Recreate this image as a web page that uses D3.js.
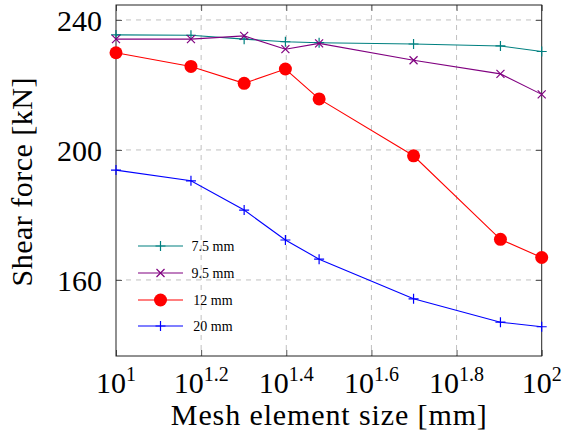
<!DOCTYPE html>
<html><head><meta charset="utf-8">
<script src="https://cdn.jsdelivr.net/npm/d3@7"></script>
<style>body{margin:0;background:#fff}svg{display:block}</style>
</head><body><svg id="c" width="563" height="437" font-family="'Liberation Serif', 'DejaVu Serif', serif"></svg>
<script>
const meshSizes = [10, 15, 20, 25, 30, 50, 80, 100];
const seriesNames = ["7.5 mm", "9.5 mm", "12 mm", "20 mm"];
const v75 = [235.4, 235.3, 234.1, 233.3, 233.0, 232.6, 232.0, 230.3];
const v95 = [234.1, 234.1, 235.1, 231.0, 232.8, 227.6, 223.4, 217.1];
const v12 = [229.9, 225.7, 220.5, 224.9, 215.7, 198.2, 172.5, 166.9];
const v20 = [193.8, 190.5, 181.5, 172.3, 166.4, 154.2, 147.0, 145.6];
const xTickExps = ["1", "1.2", "1.4", "1.6", "1.8", "2"];
const yTicks = [160, 200, 240];

const svg = d3.select("#c");
const L = 116, R = 541.7, T = 5, B = 356;
const x = d3.scaleLog().domain([10, 100]).range([L, R]);
const y = d3.scaleLinear().domain([136.6, 244.6]).range([B, T]);

const series = [
  {name: seriesNames[0], vals: v75, color: "#008080", marker: "plus"},
  {name: seriesNames[1], vals: v95, color: "#800080", marker: "x"},
  {name: seriesNames[2], vals: v12, color: "#ff0000", marker: "dot"},
  {name: seriesNames[3], vals: v20, color: "#0000ff", marker: "plus"}
];

const xTickVals = xTickExps.map(e => Math.pow(10, +e));
const grid = svg.append("g").attr("stroke", "#c0c0c0").attr("stroke-dasharray", "5,5").attr("stroke-width", 1);
xTickVals.slice(1, -1).forEach(v => grid.append("line").attr("x1", x(v)).attr("x2", x(v)).attr("y1", T).attr("y2", B));
yTicks.forEach(v => grid.append("line").attr("x1", L).attr("x2", R).attr("y1", y(v)).attr("y2", y(v)));

const xb = svg.append("g").attr("transform", `translate(0,${B})`)
  .call(d3.axisBottom(x).tickValues(xTickVals).tickSizeInner(-6).tickSizeOuter(0).tickFormat(""));
const xt = svg.append("g").attr("transform", `translate(0,${T})`)
  .call(d3.axisTop(x).tickValues(xTickVals).tickSizeInner(-6).tickSizeOuter(0).tickFormat(""));
const yl = svg.append("g").attr("transform", `translate(${L},0)`)
  .call(d3.axisLeft(y).tickValues(yTicks).tickSizeInner(-6).tickSizeOuter(0).tickFormat(""));
const yr = svg.append("g").attr("transform", `translate(${R},0)`)
  .call(d3.axisRight(y).tickValues(yTicks).tickSizeInner(-6).tickSizeOuter(0).tickFormat(""));
[xb, xt, yl, yr].forEach(g => { g.select(".domain").remove(); g.selectAll("line").attr("stroke", "#555"); g.attr("font-family", null).attr("font-size", null); });

svg.append("rect").attr("x", L).attr("y", T).attr("width", R - L).attr("height", B - T)
  .attr("fill", "none").attr("stroke", "#222").attr("stroke-width", 1);

xTickExps.forEach((e, i) => {
  const t = svg.append("text").attr("x", x(xTickVals[i])).attr("y", 393).attr("text-anchor", "middle").attr("font-size", 30);
  t.append("tspan").text("10");
  t.append("tspan").attr("dy", -12).attr("font-size", 20).text(e);
});
yTicks.forEach(v => svg.append("text").attr("x", 102).attr("y", y(v) + 11).attr("text-anchor", "end").attr("font-size", 30).text(v));

svg.append("text").attr("x", (L + R) / 2).attr("y", 425).attr("text-anchor", "middle").attr("font-size", 30)
  .attr("textLength", 316).attr("lengthAdjust", "spacing").text("Mesh element size [mm]");
svg.append("text").attr("transform", `translate(32,182) rotate(-90)`).attr("text-anchor", "middle").attr("font-size", 30)
  .attr("textLength", 209).attr("lengthAdjust", "spacing").text("Shear force [kN]");

function drawMarker(g, m, cx, cy, color) {
  if (m === "plus") {
    g.append("path").attr("d", `M${cx-5},${cy}H${cx+5}M${cx},${cy-5}V${cy+5}`).attr("stroke", color).attr("stroke-width", 1.2).attr("fill", "none");
  } else if (m === "x") {
    g.append("path").attr("d", `M${cx-4},${cy-4}L${cx+4},${cy+4}M${cx-4},${cy+4}L${cx+4},${cy-4}`).attr("stroke", color).attr("stroke-width", 1.2).attr("fill", "none");
  } else {
    g.append("circle").attr("cx", cx).attr("cy", cy).attr("r", 6.5).attr("fill", color);
  }
}

const line = d3.line().x(d => x(d[0])).y(d => y(d[1]));
series.forEach(s => {
  const g = svg.append("g");
  const pts = meshSizes.map((m, i) => [m, s.vals[i]]);
  g.append("path").attr("d", line(pts)).attr("fill", "none").attr("stroke", s.color).attr("stroke-width", 1.1);
  pts.forEach(p => drawMarker(g, s.marker, x(p[0]), y(p[1]), s.color));
});

const legY = [246, 273, 300, 326];
series.forEach((s, i) => {
  const g = svg.append("g");
  g.append("line").attr("x1", 138).attr("x2", 183).attr("y1", legY[i]).attr("y2", legY[i]).attr("stroke", s.color).attr("stroke-width", 1.1);
  drawMarker(g, s.marker, 160.5, legY[i], s.color);
  g.append("text").attr("x", 213).attr("y", legY[i] + 4.5).attr("text-anchor", "middle").attr("font-size", 14).text(s.name);
});
</script></body></html>
